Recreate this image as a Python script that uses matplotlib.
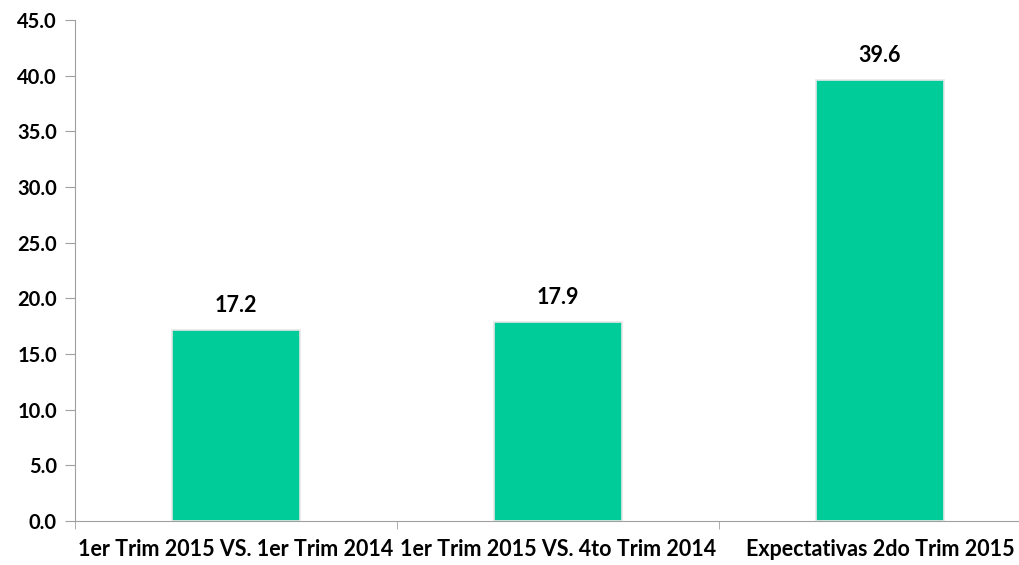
import matplotlib
matplotlib.use("Agg")
import matplotlib.pyplot as plt

plt.rcParams["font.family"] = ["Lato", "DejaVu Sans"]
plt.rcParams["font.weight"] = "bold"

categories = ["1er Trim 2015 VS. 1er Trim 2014",
              "1er Trim 2015 VS. 4to Trim 2014",
              "Expectativas 2do Trim 2015"]
values = [17.2, 17.9, 39.6]
yticks = [0, 5, 10, 15, 20, 25, 30, 35, 40, 45]

fig = plt.figure(figsize=(10.19, 5.65), dpi=100)
# the plot area runs off the right edge in the original
ax = fig.add_axes([75 / 1019, 44 / 565, 966 / 1019, 501 / 565])

x = range(len(categories))
ax.bar(x, values, width=0.4, color="#00CC99", edgecolor="#E6E6E6", linewidth=1.2, zorder=3)

for xi, v in zip(x, values):
    ax.annotate("%.1f" % v, xy=(xi, v), xytext=(0, 10), textcoords="offset points",
                ha="center", va="bottom", fontsize=15.5, fontweight="bold")

ax.set_xlim(-0.5, 2.5)
ax.set_ylim(0, 45)
ax.set_yticks(yticks)
ax.set_yticklabels(["%.1f" % t for t in yticks])

# category labels under the bars, tick marks between them
ax.set_xticks(list(x))
ax.set_xticklabels(categories)
ax.set_xticks([-0.5, 0.5, 1.5, 2.5], minor=True)
ax.tick_params(axis="x", which="major", length=0, pad=13, labelsize=15.5)
ax.tick_params(axis="x", which="minor", length=6, direction="out", color="#A0A0A0")
ax.tick_params(axis="y", length=7, color="#A0A0A0", labelsize=14.5, pad=6)

for side in ["top", "right"]:
    ax.spines[side].set_visible(False)
for side in ["left", "bottom"]:
    ax.spines[side].set_color("#A0A0A0")

plt.savefig("out.png", dpi=100)
